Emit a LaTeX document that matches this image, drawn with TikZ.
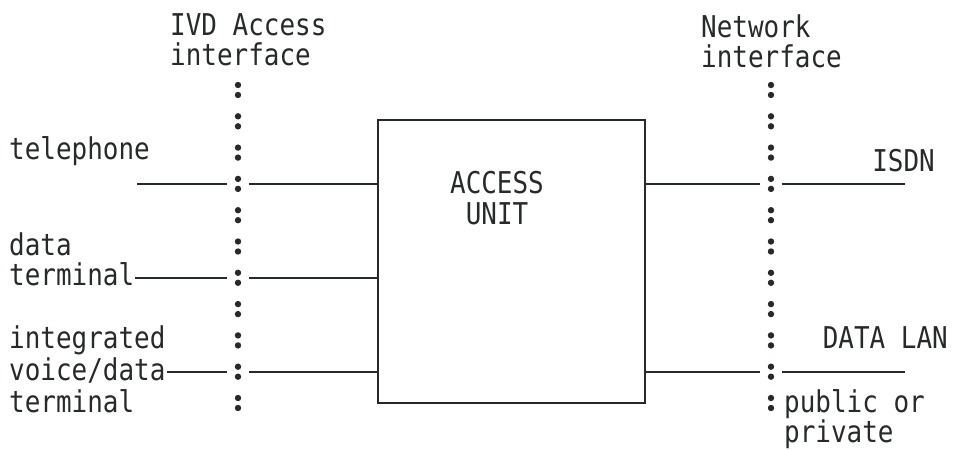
\documentclass[tikz,border=0pt]{standalone}
\usepackage{fontspec}
\usepackage{tikz}
\usetikzlibrary{positioning,calc}
\usepackage{xcolor}
\definecolor{ink}{HTML}{262B28}
\newfontfamily\typefont[FakeStretch=0.865]{DejaVu Sans Mono}
\newcommand{\typed}{\typefont\fontsize{15pt}{15.6pt}\selectfont}

\begin{document}
\begin{tikzpicture}[x=0.5pt, y=-0.5pt, ink, line width=1.2pt,
    every node/.style={font=\typed, inner sep=0pt, text=ink},
    colon/.style={minimum width=9.5pt, minimum height=10pt},
    lbl/.style={anchor=base west},
    rlbl/.style={anchor=base east}]
  \useasboundingbox (0,0) rectangle (954,450);
  % the two interface columns, one colon per typed row
  \foreach \k in {0,...,10}{
    \node[colon] (L\k) at (238,{90+31.3*\k}) {};
    \node[colon] (R\k) at (771,{90+31.3*\k}) {};
    \fill (L\k) +(0,-5) circle[radius=1.6pt] +(0,5) circle[radius=1.6pt];
    \fill (R\k) +(0,-5) circle[radius=1.6pt] +(0,5) circle[radius=1.6pt];
  }
  \node[draw, minimum width=133.5pt, minimum height=141.5pt] (unit) at (511.5,261.5) {};
  \node[anchor=base] (acc) at (497,193) {ACCESS};
  \node[anchor=base] (unt) at (497,224) {UNIT};

  \node[lbl] (ivd)  at (169,35) {IVD Access};
  \node[lbl] (ivdb) at (169,65) {interface};
  \node[lbl] (net)  at (700,37) {Network};
  \node[lbl] (netb) at (700,67) {interface};

  \node[lbl] (tel)     at (8,159) {telephone};
  \node[lbl] (dat)     at (8,255) {data};
  \node[lbl] (dterm)   at (8,285) {terminal};
  \node[lbl] (ivdt)    at (8,348) {integrated};
  \node[lbl] (vd)      at (8,380) {voice/data};
  \node[lbl] (ivdterm) at (8,412) {terminal};

  \node[rlbl] (isdn) at (936,171) {ISDN};
  \node[rlbl] (lan)  at (949,348) {DATA LAN};
  \node[lbl] (pub)   at (783,412) {public or};
  \node[lbl] (pri)   at (783,442) {private};

  \coordinate (telin)   at ($(L3)+(-101,0)$);
  \coordinate (isdnout) at ($(R3)+(134,0)$);
  \coordinate (lanout)  at ($(R9)+(134,0)$);

  % terminal side
  \draw (telin) -- (L3.west);
  \draw (L3.east) -- (L3.east -| unit.west);
  \draw (dterm.east |- L6) -- (L6.west);
  \draw (L6.east) -- (L6.east -| unit.west);
  \draw (vd.east |- L9) -- (L9.west);
  \draw (L9.east) -- (L9.east -| unit.west);
  % network side
  \draw (unit.east |- R3) -- (R3.west);
  \draw (R3.east) -- (isdnout);
  \draw (unit.east |- R9) -- (R9.west);
  \draw (R9.east) -- (lanout);
\end{tikzpicture}
\end{document}
